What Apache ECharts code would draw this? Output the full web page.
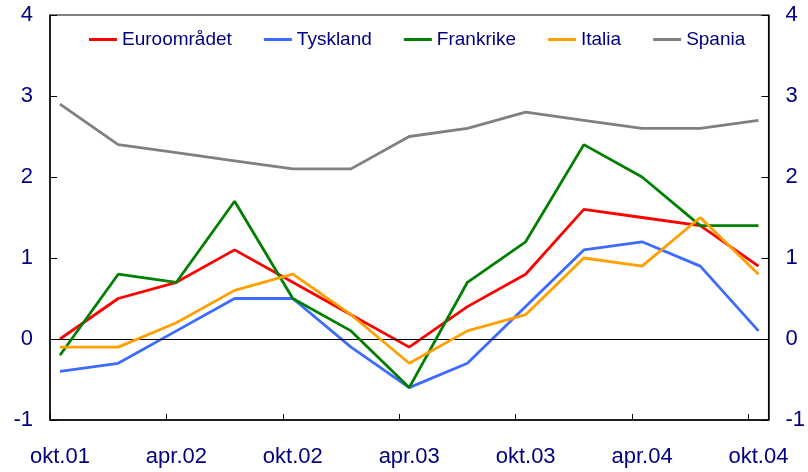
<!DOCTYPE html>
<html>
<head>
<meta charset="utf-8">
<script src="https://cdn.jsdelivr.net/npm/echarts@6/dist/echarts.min.js"></script>
<style>
html,body{margin:0;padding:0;background:#fff;}
#c{width:808px;height:472px;}
</style>
</head>
<body>
<div id="c"></div>
<script>
const categories = ['okt.01','jan.02','apr.02','jul.02','okt.02','jan.03','apr.03','jul.03','okt.03','jan.04','apr.04','jul.04','okt.04'];
const euroomradet = [0.0, 0.5, 0.7, 1.1, 0.7, 0.3, -0.1, 0.4, 0.8, 1.6, 1.5, 1.4, 0.9];
const tyskland    = [-0.4, -0.3, 0.1, 0.5, 0.5, -0.1, -0.6, -0.3, 0.4, 1.1, 1.2, 0.9, 0.1];
const frankrike   = [-0.2, 0.8, 0.7, 1.7, 0.5, 0.1, -0.6, 0.7, 1.2, 2.4, 2.0, 1.4, 1.4];
const italia      = [-0.1, -0.1, 0.2, 0.6, 0.8, 0.3, -0.3, 0.1, 0.3, 1.0, 0.9, 1.5, 0.8];
const spania      = [2.9, 2.4, 2.3, 2.2, 2.1, 2.1, 2.5, 2.6, 2.8, 2.7, 2.6, 2.6, 2.7];
const seriesNames = ['Euroområdet','Tyskland','Frankrike','Italia','Spania'];
const yTicks = [-1, 0, 1, 2, 3, 4];

const seriesData = [euroomradet, tyskland, frankrike, italia, spania];
const colors = ['#FF0000', '#3D6BFF', '#008000', '#FFA000', '#808080'];
const navy = '#000080';
const font = 'Liberation Sans, Arial, sans-serif';
const pad = 0.1714;
const labelIdx = categories.map((c, i) => i).filter(i => i % 2 === 0);
const tickVals = labelIdx.map(i => i - pad);

const chart = echarts.init(document.getElementById('c'), null, {renderer: 'canvas'});
const yAxisBase = (pos) => ({
  type: 'value', position: pos, min: yTicks[0], max: yTicks[yTicks.length - 1], interval: 1,
  axisLine: {show: true, onZero: false, lineStyle: {color: '#000', width: 1.5}},
  axisTick: {show: true, inside: true, length: 7, lineStyle: {color: '#000', width: 1}},
  axisLabel: {color: navy, fontSize: 22, fontFamily: font, margin: 17},
  splitLine: {show: false}
});
chart.setOption({
  animation: false,
  backgroundColor: '#fff',
  grid: {left: 50, right: 37, top: 15, bottom: 52, show: true, borderColor: '#000', borderWidth: 1, backgroundColor: 'transparent'},
  legend: {
    top: 25, left: 84, itemWidth: 28, itemHeight: 3, itemGap: 32, icon: 'rect',
    textStyle: {color: navy, fontSize: 19, fontFamily: font},
    data: seriesNames
  },
  xAxis: {
    type: 'value', min: -pad, max: categories.length - 1 + pad,
    axisLine: {show: true, onZero: false, lineStyle: {color: '#000', width: 1.5}},
    axisTick: {show: true, inside: true, length: 6, customValues: tickVals, lineStyle: {color: '#000', width: 1}},
    axisLabel: {color: navy, fontSize: 22, fontFamily: font, margin: 26, customValues: labelIdx,
      formatter: v => categories[Math.round(v)] || ''},
    splitLine: {show: false}
  },
  yAxis: [yAxisBase('left'), yAxisBase('right')],
  series: seriesNames.map((name, k) => ({
    name, type: 'line', symbol: 'none', yAxisIndex: 0,
    data: seriesData[k].map((v, i) => [i, v]),
    lineStyle: {color: colors[k], width: 2.8},
    itemStyle: {color: colors[k]},
    z: 3 + k,
    markLine: k === 0 ? {
      silent: true, symbol: 'none', label: {show: false},
      lineStyle: {color: '#000', width: 1, type: 'solid'},
      data: [{yAxis: 0}]
    } : undefined
  }))
});
</script>
</body>
</html>
